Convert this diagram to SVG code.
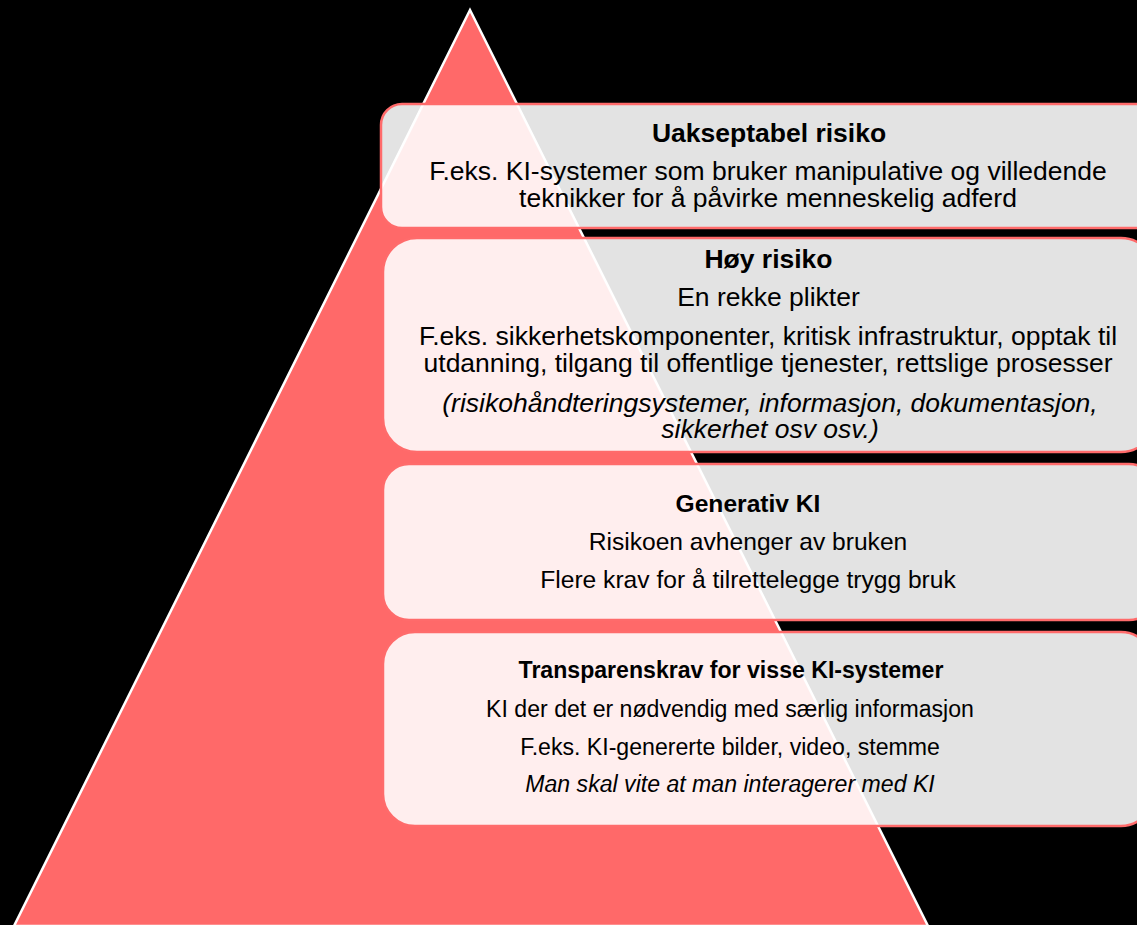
<svg xmlns="http://www.w3.org/2000/svg" width="1137" height="925" viewBox="0 0 1137 925">
<style>
.bg{fill:#000}
.tri{fill:#FF6969;stroke:#fff;stroke-width:2.5;stroke-linejoin:miter}
.box{fill:#fff;fill-opacity:0.89;stroke:#FF6B6B;stroke-width:2.5}
text{font-family:"Liberation Sans",Arial,sans-serif;fill:#000;text-anchor:middle}
.h{font-weight:bold}
.i{font-style:italic}
.s1{font-size:26.5px}
.s3{font-size:24.6px}
.s4{font-size:23.1px}
</style>
<rect class="bg" x="0" y="0" width="1137" height="925"/>
<g id="pyramid">
<polygon class="tri" points="470,10 14,926 928,926"/>
</g>
<g id="box-uakseptabel">
<rect class="box" x="381" y="104" width="775" height="124" rx="21" ry="21"/>
<text class="s1 h" x="769" y="142">Uakseptabel risiko</text>
<text class="s1" x="768" y="180">F.eks. KI-systemer som bruker manipulative og villedende</text>
<text class="s1" x="768" y="206.7">teknikker for å påvirke menneskelig adferd</text>
</g>
<g id="box-hoy">
<rect class="box" x="383" y="238" width="772" height="214" rx="34" ry="34"/>
<text class="s1 h" x="768.5" y="268.3">Høy risiko</text>
<text class="s1" x="768.5" y="306">En rekke plikter</text>
<text class="s1" x="768" y="345">F.eks. sikkerhetskomponenter, kritisk infrastruktur, opptak til</text>
<text class="s1" x="768" y="371.7">utdanning, tilgang til offentlige tjenester, rettslige prosesser</text>
<text class="s1 i" x="770" y="411.5">(risikohåndteringsystemer, informasjon, dokumentasjon,</text>
<text class="s1 i" x="770" y="438">sikkerhet osv osv.)</text>
</g>
<g id="box-generativ">
<rect class="box" x="383" y="464" width="772" height="156" rx="26" ry="26"/>
<text class="s3 h" x="748" y="512.3">Generativ KI</text>
<text class="s3" x="748" y="550">Risikoen avhenger av bruken</text>
<text class="s3" x="748" y="588.3">Flere krav for å tilrettelegge trygg bruk</text>
</g>
<g id="box-transparens">
<rect class="box" x="383" y="632" width="770" height="194" rx="32" ry="32"/>
<text class="s4 h" x="731" y="678.3">Transparenskrav for visse KI-systemer</text>
<text class="s4" x="730" y="716.7">KI der det er nødvendig med særlig informasjon</text>
<text class="s4" x="730" y="755">F.eks. KI-genererte bilder, video, stemme</text>
<text class="s4 i" x="730" y="791.7">Man skal vite at man interagerer med KI</text>
</g>
</svg>
